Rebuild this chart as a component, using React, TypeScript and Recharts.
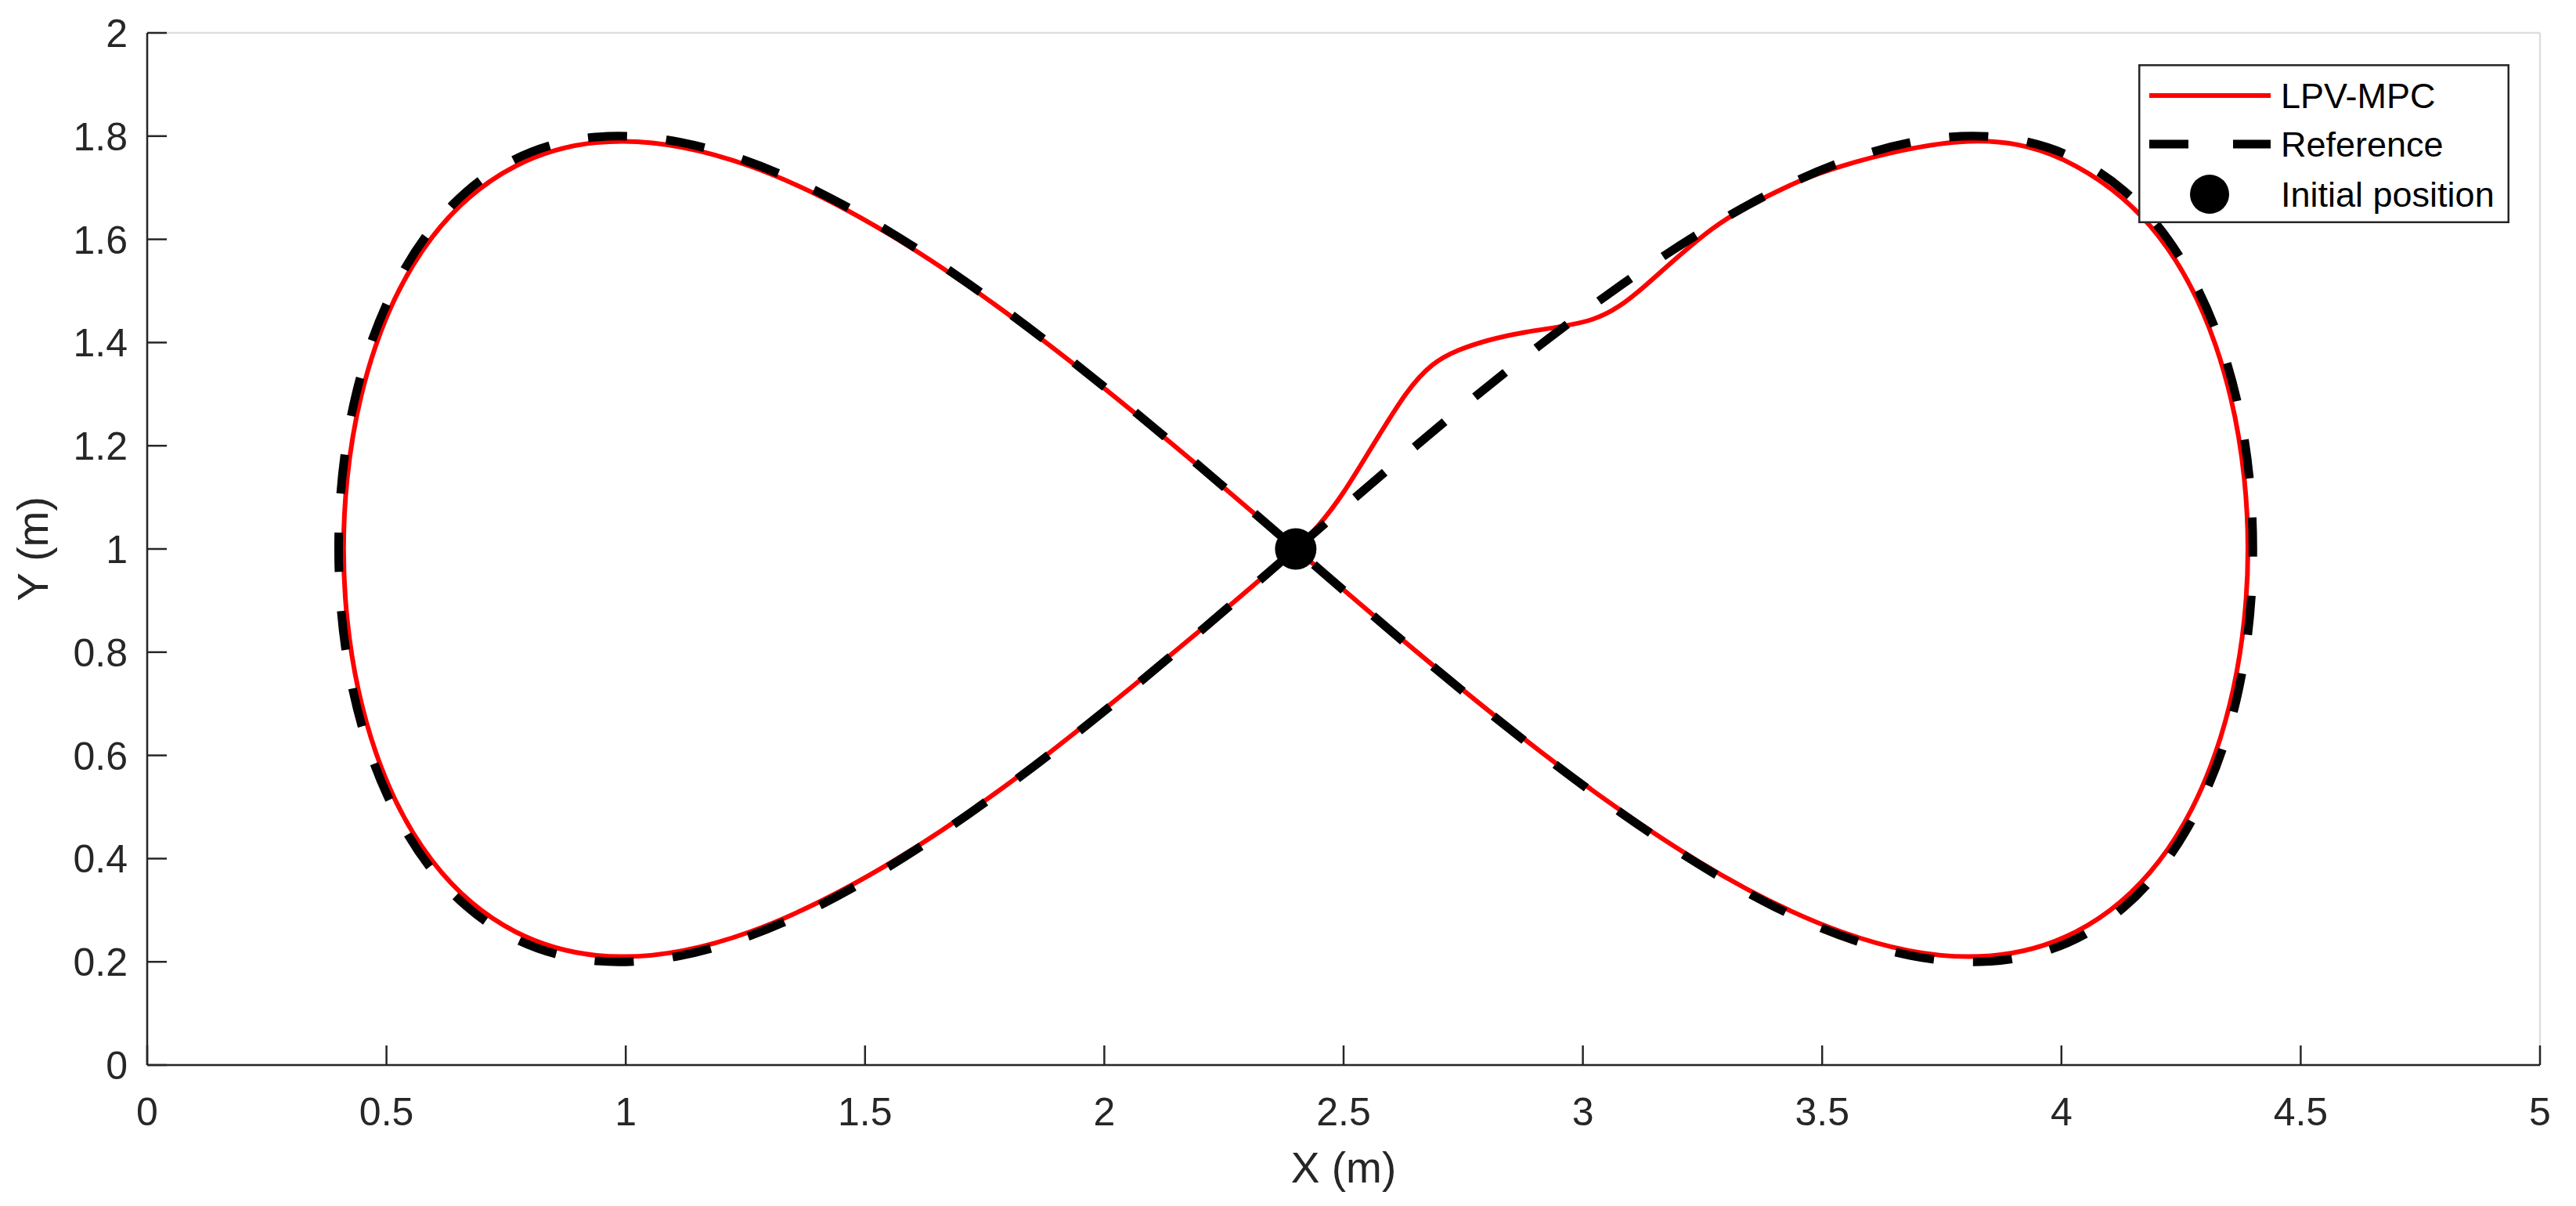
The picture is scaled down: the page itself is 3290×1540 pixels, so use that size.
import { ComposedChart, Line, Scatter, XAxis, YAxis, CartesianGrid, Legend } from 'recharts'

const FONT = '"Liberation Sans", Arial, Helvetica, sans-serif'
const AXIS = '#262626'
const TICK_LEN = 25

const xTicks = [0, 0.5, 1, 1.5, 2, 2.5, 3, 3.5, 4, 4.5, 5]
const yTicks = [0, 0.2, 0.4, 0.6, 0.8, 1, 1.2, 1.4, 1.6, 1.8, 2]

// reference figure-eight
const refX = [2.4, 2.747, 3.084, 3.4, 3.686, 3.932, 4.132, 4.279, 4.37, 4.4, 4.37, 4.279, 4.132, 3.932, 3.686, 3.4, 3.084, 2.747, 2.4, 2.053, 1.716, 1.4, 1.114, 0.868, 0.668, 0.521, 0.43, 0.4, 0.43, 0.521, 0.668, 0.868, 1.114, 1.4, 1.716, 2.053, 2.4]
const refY = [1, 1.274, 1.514, 1.693, 1.788, 1.788, 1.693, 1.514, 1.274, 1, 0.726, 0.486, 0.307, 0.212, 0.212, 0.307, 0.486, 0.726, 1, 1.274, 1.514, 1.693, 1.788, 1.788, 1.693, 1.514, 1.274, 1, 0.726, 0.486, 0.307, 0.212, 0.212, 0.307, 0.486, 0.726, 1]

// LPV-MPC trajectory (red)
const mpcX = [2.4, 2.5, 2.63, 2.74, 2.88, 3.02, 3.13, 3.27, 3.4, 3.541, 3.807, 4.03, 4.204, 4.322, 4.382, 4.382, 4.322, 4.204, 4.03, 3.807, 3.541, 3.241, 2.915, 2.573, 2.227, 1.885, 1.559, 1.259, 0.993, 0.77, 0.596, 0.478, 0.418, 0.418, 0.478, 0.596, 0.77, 0.993, 1.259, 1.559, 1.885, 2.227, 2.4]
const mpcY = [1, 1.11, 1.3, 1.385, 1.42, 1.445, 1.51, 1.62, 1.69, 1.742, 1.79, 1.742, 1.605, 1.395, 1.137, 0.863, 0.605, 0.395, 0.258, 0.21, 0.258, 0.395, 0.605, 0.863, 1.137, 1.395, 1.605, 1.742, 1.79, 1.742, 1.605, 1.395, 1.137, 0.863, 0.605, 0.395, 0.258, 0.21, 0.258, 0.395, 0.605, 0.863, 1]

const startX = [2.4]
const startY = [1]

const refData = refX.map((x, i) => ({ x, y: refY[i] }))
const mpcData = mpcX.map((x, i) => ({ x, y: mpcY[i] }))
const startData = startX.map((x, i) => ({ x, y: startY[i] }))

const fmt = (v: number) => (Number.isInteger(v) ? String(v) : v.toFixed(1))

const BottomTick = (props: any) => {
  const { x, y, payload } = props
  return (
    <g>
      <line x1={x} x2={x} y1={y} y2={y - TICK_LEN} stroke={AXIS} strokeWidth={2.5} />
      <text x={x} y={y + 77} textAnchor="middle" fontSize={50} fontFamily={FONT} fill={AXIS}>
        {fmt(payload.value)}
      </text>
    </g>
  )
}

const TopTick = (props: any) => {
  const { x, y } = props
  return <line x1={x} x2={x} y1={y} y2={y + TICK_LEN} stroke={AXIS} strokeWidth={2.5} />
}

const LeftTick = (props: any) => {
  const { x, y, payload } = props
  return (
    <g>
      <line x1={x} x2={x + TICK_LEN} y1={y} y2={y} stroke={AXIS} strokeWidth={2.5} />
      <text x={x - 25} y={y + 18} textAnchor="end" fontSize={50} fontFamily={FONT} fill={AXIS}>
        {fmt(payload.value)}
      </text>
    </g>
  )
}

const RightTick = (props: any) => {
  const { x, y } = props
  return <line x1={x} x2={x - TICK_LEN} y1={y} y2={y} stroke={AXIS} strokeWidth={2.5} />
}

const xLabel = (props: any) => {
  const vb = props.viewBox
  return (
    <text x={vb.x + vb.width / 2} y={vb.y + 150} textAnchor="middle" fontSize={55} fontFamily={FONT} fill={AXIS}>
      X (m)
    </text>
  )
}

const yLabel = (props: any) => {
  const vb = props.viewBox
  const cx = 61
  const cy = vb.y + vb.height / 2
  return (
    <text x={cx} y={cy} transform={`rotate(-90, ${cx}, ${cy})`} textAnchor="middle" fontSize={55} fontFamily={FONT} fill={AXIS}>
      Y (m)
    </text>
  )
}

const StartDot = (props: any) => <circle cx={props.cx} cy={props.cy} r={26.5} fill="#000" />

const LegendBox = () => (
  <svg width={474} height={203} style={{ display: 'block' }}>
    <rect x={1.25} y={1.25} width={471.5} height={200.5} fill="#fff" stroke={AXIS} strokeWidth={2.5} />
    <line x1={14} x2={169} y1={40} y2={40} stroke="#ff0000" strokeWidth={6} />
    <text x={182} y={56} fontSize={45} fontFamily={FONT} fill="#000">LPV-MPC</text>
    <line x1={14} x2={169} y1={102} y2={102} stroke="#000" strokeWidth={11} strokeDasharray="50 57" />
    <text x={182} y={118} fontSize={45} fontFamily={FONT} fill="#000">Reference</text>
    <circle cx={91} cy={166} r={25} fill="#000" />
    <text x={182} y={182} fontSize={45} fontFamily={FONT} fill="#000">Initial position</text>
  </svg>
)

export default function App() {
  return (
    <div style={{ position: 'absolute', left: 0, top: 0, width: 3290, height: 1540, background: '#fff' }}>
      <ComposedChart width={3290} height={1540} margin={{ top: 42, right: 46, bottom: 0, left: 0 }}>
        <CartesianGrid stroke="#dedede" strokeWidth={2.5} />
        <XAxis
          xAxisId="b"
          type="number"
          dataKey="x"
          domain={[0, 5]}
          ticks={xTicks}
          allowDataOverflow
          height={180}
          tickSize={0}
          tickMargin={0}
          tick={BottomTick}
          stroke={AXIS}
          strokeWidth={2.5}
          label={xLabel}
        />
        <XAxis
          xAxisId="t"
          orientation="top"
          type="number"
          dataKey="x"
          domain={[0, 5]}
          ticks={xTicks}
          allowDataOverflow
          height={0}
          tickSize={0}
          tickMargin={0}
          tick={TopTick}
          stroke={AXIS}
          strokeWidth={2.5}
        />
        <YAxis
          yAxisId="l"
          type="number"
          domain={[0, 2]}
          ticks={yTicks}
          allowDataOverflow
          width={188}
          tickSize={0}
          tickMargin={0}
          tick={LeftTick}
          stroke={AXIS}
          strokeWidth={2.5}
          label={yLabel}
        />
        <YAxis
          yAxisId="r"
          orientation="right"
          type="number"
          domain={[0, 2]}
          ticks={yTicks}
          allowDataOverflow
          width={0}
          tickSize={0}
          tickMargin={0}
          tick={RightTick}
          stroke={AXIS}
          strokeWidth={2.5}
        />
        <Line
          xAxisId="b"
          yAxisId="l"
          data={mpcData}
          dataKey="y"
          type="natural"
          stroke="#ff0000"
          strokeWidth={6}
          dot={false}
          activeDot={false}
          isAnimationActive={false}
          name="LPV-MPC"
        />
        <Line
          xAxisId="b"
          yAxisId="l"
          data={refData}
          dataKey="y"
          type="natural"
          stroke="#000"
          strokeWidth={11}
          strokeDasharray="50 50"
          dot={false}
          activeDot={false}
          isAnimationActive={false}
          name="Reference"
        />
        <Scatter
          xAxisId="b"
          yAxisId="l"
          data={startData}
          dataKey="y"
          fill="#000"
          shape={StartDot}
          isAnimationActive={false}
          name="Initial position"
        />
        <Legend
          layout="vertical"
          align="center"
          verticalAlign="middle"
          content={LegendBox}
          wrapperStyle={{ left: 2731, top: 82, width: 474, height: 203 }}
        />
      </ComposedChart>
    </div>
  )
}
